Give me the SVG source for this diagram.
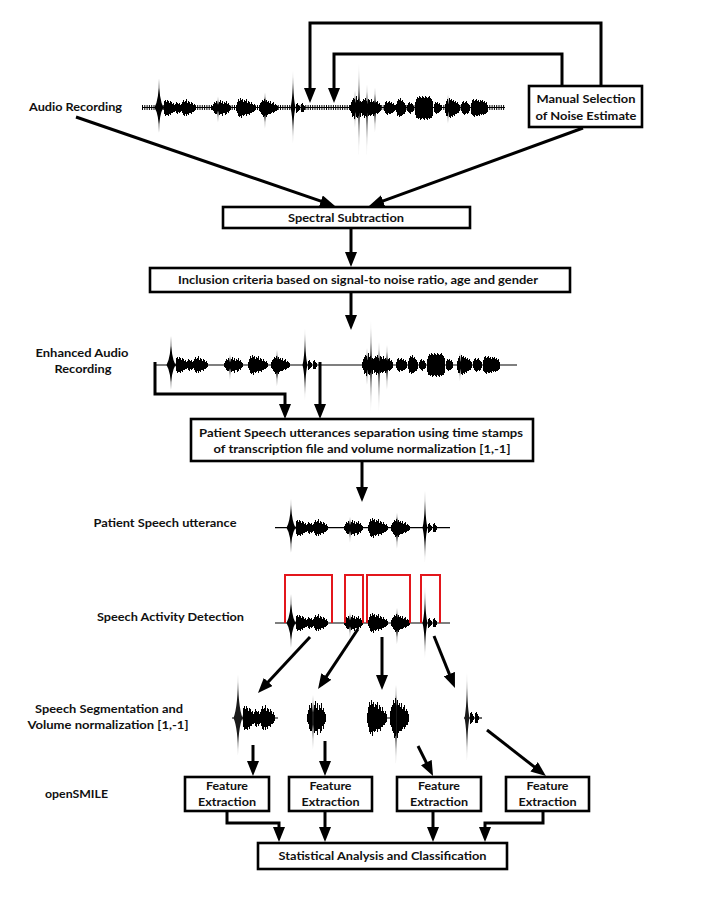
<svg xmlns="http://www.w3.org/2000/svg" xmlns:xlink="http://www.w3.org/1999/xlink" width="705" height="912" viewBox="0 0 705 912">
<style>
.t{font-family:Lato,"Liberation Sans",sans-serif;font-weight:bold;font-size:12px;fill:#111}
.box{fill:#fff;stroke:#000;stroke-width:2.6}
.c{fill:none;stroke:#000;stroke-width:3;marker-end:url(#ah)}
.wv{fill:#000}
.tk{fill:none;stroke:#000;stroke-width:1;shape-rendering:crispEdges}
.base{stroke:#000;stroke-width:1.2}
.sad{fill:none;stroke:#e3161c;stroke-width:2}
</style>
<defs>
<marker id="ah" markerUnits="userSpaceOnUse" markerWidth="15" markerHeight="12" refX="10" refY="6" orient="auto">
<path d="M0,0L15,6L0,12Z" fill="#000"/>
</marker>
<g id="S1">
<path d="M154.5 0Q159 -8 159 -29Q159 -8 163.5 0Q159 7 159 25Q159 7 154.5 0Z"/>
<path d="M163 0Q166 -8 176 0Q166 8 163 0Z"/>
<path d="M175 0Q177 -6 183 0Q177 6 175 0Z"/>
<path d="M182 0Q186 -8 196 0Q186 8 182 0Z"/>
<path class="tk" d="M164 -7V6M165 -8V8M166 -6V7M167 -8V7M168 -7V8M169 -5V6M170 -7V7M171 -6V5M172 -4V5M173 -5V4M174 -3V4M175 -4V3M176 -6V5M177 -5V6M178 -4V4M179 -5V5M180 -3V4M181 -4V3M182 -6V5M183 -8V7M184 -6V8M185 -7V6M186 -9V8M187 -5V6M188 -7V7M189 -6V5M190 -4V5M191 -6V6M192 -5V4M193 -3V4M194 -4V3M195 -2V2"/>
</g>
<g id="S2">
<path d="M216 0Q218 -4 218 -11Q218 -4 220 0Q218 4 218 15Q218 4 216 0Z"/>
<path d="M212 0Q219 -6 231 0Q219 6 212 0Z"/>
<path class="tk" d="M212 -2V2M213 -4V3M214 -6V5M215 -5V6M216 -7V6M219 -6V7M220 -8V6M221 -5V6M222 -7V8M223 -4V5M224 -6V5M225 -5V7M226 -7V6M227 -4V4M228 -5V5M229 -3V3M230 -2V2"/>
</g>
<g id="S3">
<path d="M236 0Q240 -9 256 0Q240 9 236 0Z"/>
<path class="tk" d="M236 -3V3M237 -6V5M238 -9V8M239 -7V9M240 -10V8M241 -8V10M242 -9V7M243 -6V8M244 -8V7M245 -7V6M246 -9V8M247 -5V6M248 -7V6M249 -6V7M250 -4V5M251 -6V5M252 -4V4M253 -3V4M254 -4V3M255 -2V2"/>
</g>
<g id="S4">
<path d="M262 0Q265 -5 265 -15Q265 -5 268 0Q265 6 265 21Q265 6 262 0Z"/>
<path d="M259 0Q265 -7 278 0Q265 7 259 0Z"/>
<path class="tk" d="M259 -3V3M260 -5V4M261 -6V6M262 -8V7M263 -7V9M264 -9V8M266 -8V9M267 -6V7M268 -7V6M269 -5V6M270 -7V6M271 -4V5M272 -5V4M273 -6V5M274 -3V4M275 -4V3M276 -3V3M277 -2V2"/>
</g>
<g id="S5">
<path d="M290.5 0Q293 -10 293 -37Q293 -10 295.5 0Q293 10 293 35Q293 10 290.5 0Z"/>
<path class="tk" d="M296 -4V5M297 -5V4M298 -3V3M299 -2V2M301 -4V4M302 -5V4M303 -3V4M304 -2V2"/>
</g>
<g id="partA" class="wv">
<use xlink:href="#S1"/><use xlink:href="#S2"/><use xlink:href="#S3"/><use xlink:href="#S4"/><use xlink:href="#S5"/>
</g>
<g id="partB" class="wv">
<path d="M350 0Q355 -10 362 0Q355 10 350 0Z"/>
<path d="M353 0Q355 -5 355 -17Q355 -5 357 0Q355 5 355 20Q355 5 353 0Z"/>
<path d="M357.5 0Q359 -10 359 -45Q359 -10 360.5 0Q359 10 359 48Q359 10 357.5 0Z"/>
<path d="M365.5 0Q367 -6 367 -23Q367 -6 368.5 0Q367 10 367 48Q367 10 365.5 0Z"/>
<path d="M373 0Q375 -5 375 -20Q375 -5 377 0Q375 6 375 25Q375 6 373 0Z"/>
<path d="M362 0Q366 -8 381 0Q366 8 362 0Z"/>
<path d="M384 0Q388 -6 395 0Q388 6 384 0Z"/>
<path d="M396 0Q400 -8 406 0Q400 8 396 0Z"/>
<path d="M415 0C415 -9 433 -9 433 0C433 9 415 9 415 0Z"/>
<path d="M445 0Q450 -8 460 0Q450 8 445 0Z"/>
<path d="M446 0Q448 -4 448 -13Q448 -4 450 0Q448 5 448 16Q448 5 446 0Z"/>
<path d="M471 0C471 -7 488 -5 488 0C488 5 471 7 471 0Z"/>
<path class="tk" d="M350 -3V3M351 -6V5M352 -8V9M353 -10V8M354 -9V11M356 -12V9M357 -8V10M358 -9V8M360 -7V9M361 -6V5M362 -7V8M363 -9V7M364 -8V10M365 -10V8M366 -7V9M368 -9V8M369 -8V7M370 -6V8M371 -9V7M372 -6V6M373 -7V8M374 -5V6M376 -6V5M377 -7V6M378 -4V5M379 -5V4M380 -3V3M384 -3V3M385 -6V5M386 -7V6M387 -5V7M388 -6V5M389 -7V6M390 -5V6M391 -6V5M392 -4V5M393 -5V4M394 -3V3M396 -4V4M397 -7V8M398 -9V7M399 -8V9M400 -10V8M401 -7V8M402 -8V7M403 -6V6M404 -5V6M405 -3V4M407 -3V3M408 -5V4M409 -6V5M410 -4V6M411 -5V4M412 -4V4M413 -2V3M415 -6V7M416 -9V10M417 -11V10M418 -10V11M419 -12V10M420 -11V12M421 -10V11M422 -12V10M423 -11V11M424 -10V12M425 -12V10M426 -11V11M427 -10V12M428 -11V10M429 -12V11M430 -10V10M431 -9V10M432 -7V8M434 -4V4M435 -6V5M436 -5V6M437 -6V5M438 -4V5M439 -5V4M440 -3V3M445 -4V5M446 -7V8M447 -9V8M449 -10V9M450 -8V10M451 -9V8M452 -7V9M453 -8V7M454 -6V8M455 -7V6M456 -5V6M457 -6V5M458 -4V5M459 -3V3M461 -4V3M462 -6V5M463 -7V6M464 -5V7M465 -6V6M466 -7V5M467 -5V6M468 -4V5M469 -3V3M471 -5V6M472 -8V7M473 -9V8M474 -7V9M475 -8V7M476 -9V8M477 -7V8M478 -8V7M479 -6V8M480 -8V6M481 -7V7M482 -8V6M483 -6V7M484 -7V6M485 -5V6M486 -6V5M487 -3V4"/>
</g>
</defs>
<rect width="705" height="912" fill="#fff"/>

<g id="audio-wave">
<line x1="142" y1="107.5" x2="505" y2="107.5" stroke="#000" stroke-width="5" stroke-dasharray="1 1.3"/>
<line class="base" x1="142" y1="107.5" x2="505" y2="107.5"/>
<use xlink:href="#partA" transform="translate(0,107.5)"/>
<use xlink:href="#partB" transform="translate(0,107.5)"/>
</g>
<g id="enhanced-wave">
<line class="base" x1="156" y1="365" x2="517" y2="365"/>
<use xlink:href="#partA" transform="translate(12,365)"/>
<use xlink:href="#partB" transform="translate(12,365)"/>
</g>
<g id="utterance-wave">
<line class="base" x1="275" y1="527.7" x2="450" y2="527.7"/>
<use xlink:href="#partA" transform="translate(132,527.7)"/>
</g>
<g id="sad-wave">
<line class="base" x1="275" y1="623" x2="450" y2="623"/>
<use xlink:href="#partA" transform="translate(132,623)"/>
<path class="sad" d="M285 623V575H332V623M345 623V575H363V623M367 623V575H410V623M421 623V575H440V623"/>
</g>
<g id="segments" fill="#1a1a1a">
<line class="base" x1="232" y1="718" x2="278" y2="718"/>
<use xlink:href="#S1" transform="translate(79,718) scale(1,1.5)"/>
<line class="base" x1="307" y1="718" x2="323" y2="718"/>
<use xlink:href="#S2" transform="translate(95,718) scale(1,2.1)"/>
<line class="base" x1="367" y1="718" x2="408" y2="718"/>
<use xlink:href="#S3" transform="translate(131,718) scale(1,1.8)"/>
<use xlink:href="#S4" transform="translate(131,718) scale(1,2.2)"/>
<line class="base" x1="464" y1="718" x2="482" y2="718"/>
<use xlink:href="#S5" transform="translate(174,718) scale(1,1.22)"/>
</g>

<g id="connectors">
<path class="c" d="M601 86V23H310V98"/>
<path class="c" d="M562 86V54H334V98"/>
<path class="c" d="M76 117L330.3 204.4"/>
<path class="c" d="M583 128L373.7 204.3"/>
<path class="c" d="M351 228V262"/>
<path class="c" d="M351 292V325"/>
<path class="c" d="M155 362V394H285V414"/>
<path class="c" d="M320 362V414"/>
<path class="c" d="M362 461V497"/>
<path class="c" d="M310 637L261.4 689.3"/>
<path class="c" d="M358 629L320.8 684.8"/>
<path class="c" d="M382 637V685"/>
<path class="c" d="M434 636L453.1 683.4"/>
<path class="c" d="M253 745V771"/>
<path class="c" d="M325 741V771"/>
<path class="c" d="M418 746L430.8 771.5"/>
<path class="c" d="M487 730L542 772.9"/>
<path class="c" d="M227 811V823H279V837"/>
<path class="c" d="M325 811V837"/>
<path class="c" d="M433 811V837"/>
<path class="c" d="M543 811V823H485V837"/>
</g>

<g id="label-audio"><text class="t" x="29" y="111" textLength="93" lengthAdjust="spacingAndGlyphs">Audio Recording</text></g>
<g id="manual-selection">
<rect class="box" x="529" y="86" width="113" height="41"/>
<text class="t" x="586" y="103" text-anchor="middle" textLength="99" lengthAdjust="spacingAndGlyphs">Manual Selection</text>
<text class="t" x="586" y="120" text-anchor="middle" textLength="101" lengthAdjust="spacingAndGlyphs">of Noise Estimate</text>
</g>
<g id="spectral-subtraction">
<rect class="box" x="223" y="207" width="247" height="21"/>
<text class="t" x="346" y="222" text-anchor="middle" textLength="116" lengthAdjust="spacingAndGlyphs">Spectral Subtraction</text>
</g>
<g id="inclusion-criteria">
<rect class="box" x="150" y="268" width="420" height="24"/>
<text class="t" x="358" y="284" text-anchor="middle" textLength="360" lengthAdjust="spacingAndGlyphs">Inclusion criteria based on signal-to noise ratio, age and gender</text>
</g>
<g id="label-enhanced">
<text class="t" x="82" y="357" text-anchor="middle" textLength="93" lengthAdjust="spacingAndGlyphs">Enhanced Audio</text>
<text class="t" x="83" y="373" text-anchor="middle" textLength="57" lengthAdjust="spacingAndGlyphs">Recording</text>
</g>
<g id="utterance-separation">
<rect class="box" x="191" y="419" width="342" height="42"/>
<text class="t" x="361" y="437" text-anchor="middle" textLength="324" lengthAdjust="spacingAndGlyphs">Patient Speech utterances separation  using time stamps</text>
<text class="t" x="362" y="453" text-anchor="middle" textLength="297" lengthAdjust="spacingAndGlyphs">of transcription file and volume normalization [1,-1]</text>
</g>
<g id="label-utterance"><text class="t" x="165" y="527" text-anchor="middle" textLength="143" lengthAdjust="spacingAndGlyphs">Patient Speech utterance</text></g>
<g id="label-sad"><text class="t" x="170.5" y="621" text-anchor="middle" textLength="147" lengthAdjust="spacingAndGlyphs">Speech Activity Detection</text></g>
<g id="label-segmentation">
<text class="t" x="109" y="713" text-anchor="middle" textLength="148" lengthAdjust="spacingAndGlyphs">Speech Segmentation and</text>
<text class="t" x="108" y="729" text-anchor="middle" textLength="161" lengthAdjust="spacingAndGlyphs">Volume normalization [1,-1]</text>
</g>
<g id="label-opensmile"><text class="t" x="45" y="798" textLength="63" lengthAdjust="spacingAndGlyphs">openSMILE</text></g>
<g id="feature-1">
<rect class="box" x="185" y="777" width="84" height="34"/>
<text class="t" x="227" y="790" text-anchor="middle" textLength="42" lengthAdjust="spacingAndGlyphs">Feature</text>
<text class="t" x="227" y="806" text-anchor="middle" textLength="58" lengthAdjust="spacingAndGlyphs">Extraction</text>
</g>
<g id="feature-2">
<rect class="box" x="289" y="777" width="83" height="34"/>
<text class="t" x="330.5" y="790" text-anchor="middle" textLength="42" lengthAdjust="spacingAndGlyphs">Feature</text>
<text class="t" x="330.5" y="806" text-anchor="middle" textLength="58" lengthAdjust="spacingAndGlyphs">Extraction</text>
</g>
<g id="feature-3">
<rect class="box" x="397" y="777" width="84" height="34"/>
<text class="t" x="439" y="790" text-anchor="middle" textLength="42" lengthAdjust="spacingAndGlyphs">Feature</text>
<text class="t" x="439" y="806" text-anchor="middle" textLength="58" lengthAdjust="spacingAndGlyphs">Extraction</text>
</g>
<g id="feature-4">
<rect class="box" x="506" y="777" width="83" height="34"/>
<text class="t" x="547.5" y="790" text-anchor="middle" textLength="42" lengthAdjust="spacingAndGlyphs">Feature</text>
<text class="t" x="547.5" y="806" text-anchor="middle" textLength="58" lengthAdjust="spacingAndGlyphs">Extraction</text>
</g>
<g id="statistical-analysis">
<rect class="box" x="258" y="843" width="249" height="26"/>
<text class="t" x="382.5" y="860" text-anchor="middle" textLength="208" lengthAdjust="spacingAndGlyphs">Statistical Analysis and Classification</text>
</g>
</svg>
